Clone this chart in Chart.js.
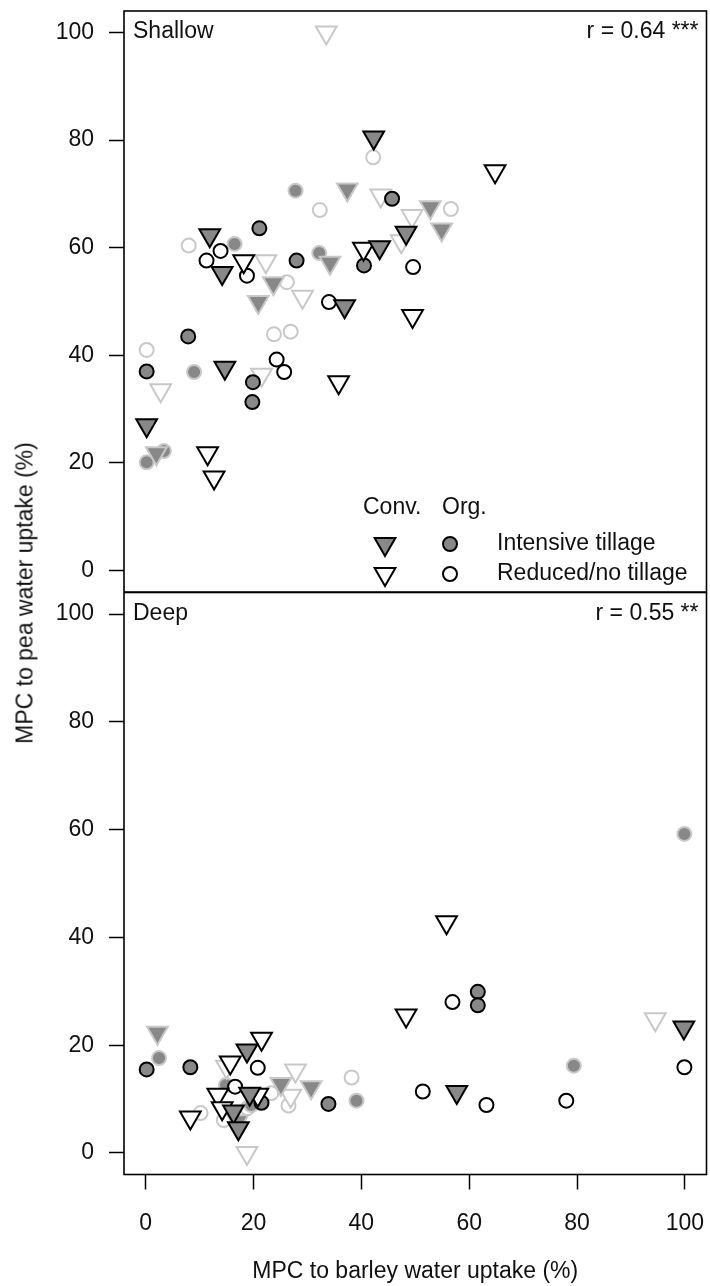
<!DOCTYPE html>
<html>
<head>
<meta charset="utf-8">
<script src="https://cdn.jsdelivr.net/npm/chart.js@4.4.1/dist/chart.umd.min.js"></script>
<style>
    body { margin: 0; background: #fff; width: 710px; height: 1286px; position: relative; overflow: hidden;
           font-family: "Liberation Sans", Arial, sans-serif; }
    #topChart { position: absolute; left: 0; top: 0; }
    #bottomChart { position: absolute; left: 0; top: 592px; }
    #ytitle { position: absolute; left: 25px; top: 593px; transform: translate(-50%, -50%) rotate(-90deg);
              font-size: 23px; color: #111; white-space: nowrap; }
</style>
</head>
<body>
<canvas id="topChart" width="710" height="592"></canvas>
<canvas id="bottomChart" width="710" height="694"></canvas>
<div id="ytitle">MPC to pea water uptake (%)</div>
<script>
// axis ticks
const xTicks = [0, 20, 40, 60, 80, 100];
const yTicks = [0, 20, 40, 60, 80, 100];

// Shallow panel: [barley MPC, pea MPC]
const shallowConvIntensive = [[42.3, 80.5], [48.3, 62.8], [11.9, 62.3], [14.2, 55.3], [43.4, 60.1], [36.9, 49.1], [14.7, 37.7], [0.2, 27.0]];
const shallowConvReduced = [[64.8, 74.2], [18.2, 57.5], [40.4, 59.8], [49.5, 47.3], [35.8, 35.0], [11.5, 21.8], [12.7, 17.3]];
const shallowOrgIntensive = [[45.7, 69.1], [21.1, 63.6], [28.0, 57.6], [40.5, 56.7], [7.9, 43.5], [0.2, 37.0], [19.9, 35.0], [19.8, 31.3]];
const shallowOrgReduced = [[13.9, 59.4], [11.3, 57.6], [18.8, 54.8], [49.6, 56.4], [34.0, 49.9], [24.3, 39.2], [25.7, 36.9]];
const shallowConvIntensiveB = [[37.4, 70.8], [52.8, 67.5], [54.9, 63.4], [34.2, 57.2], [23.7, 53.4], [20.9, 49.9], [2.0, 21.8]];
const shallowConvReducedB = [[33.5, 100], [43.6, 69.7], [49.4, 65.9], [47.4, 61.2], [22.3, 57.5], [29.1, 50.9], [21.5, 36.4], [2.8, 33.5]];
const shallowOrgIntensiveB = [[27.8, 70.6], [16.5, 60.7], [32.2, 59.0], [9.0, 36.9], [0.2, 20.1], [3.4, 22.2]];
const shallowOrgReducedB = [[42.2, 76.8], [32.3, 67.0], [56.6, 67.2], [8.0, 60.4], [26.2, 53.6], [0.2, 41.0], [23.8, 43.9], [26.9, 44.4]];

// Deep panel
const deepConvIntensive = [[99.8, 23.3], [57.7, 11.3], [18.8, 19.0], [19.3, 11.0], [16.3, 7.7], [17.2, 4.6]];
const deepConvReduced = [[55.8, 42.8], [48.3, 25.5], [21.5, 21.2], [15.7, 16.8], [8.3, 6.6], [13.4, 10.8], [14.2, 8.3], [20.8, 10.8]];
const deepOrgIntensive = [[61.6, 29.9], [61.6, 27.4], [33.9, 9.1], [0.2, 15.5], [8.3, 15.9], [21.5, 9.3]];
const deepOrgReduced = [[56.9, 28.0], [51.4, 11.4], [63.2, 8.9], [78.0, 9.7], [99.9, 15.9], [20.8, 15.8], [16.6, 12.3]];
const deepConvIntensiveB = [[2.2, 22.3], [25.1, 12.8], [30.7, 12.2], [17.1, 5.9]];
const deepConvReducedB = [[94.5, 24.8], [27.8, 15.3], [26.9, 10.6], [18.8, 0.0], [15.0, 16.0]];
const deepOrgIntensiveB = [[99.9, 59.2], [79.4, 16.2], [39.1, 9.7], [2.5, 17.6], [14.9, 12.6], [19.6, 8.9]];
const deepOrgReducedB = [[38.2, 14.0], [26.5, 8.8], [10.2, 7.4], [14.5, 6.1], [18.9, 8.3], [23.3, 11.1]];

const FONT = '"Liberation Sans", Arial, sans-serif';
const GRAY = '#888888';
const LIGHT = '#c8c8c8';

// marker looks
const styles = {
    convInt: { pointStyle: 'triangle', rotation: 180, radius: 12, bg: GRAY, border: '#000' },
    convRed: { pointStyle: 'triangle', rotation: 180, radius: 12, bg: '#fff', border: '#000' },
    orgInt: { pointStyle: 'circle', rotation: 0, radius: 7, bg: GRAY, border: '#000' },
    orgRed: { pointStyle: 'circle', rotation: 0, radius: 7, bg: '#fff', border: '#000' },
    convIntB: { pointStyle: 'triangle', rotation: 180, radius: 12, bg: GRAY, border: LIGHT },
    convRedB: { pointStyle: 'triangle', rotation: 180, radius: 12, bg: '#fff', border: LIGHT },
    orgIntB: { pointStyle: 'circle', rotation: 0, radius: 7, bg: GRAY, border: LIGHT },
    orgRedB: { pointStyle: 'circle', rotation: 0, radius: 7, bg: '#fff', border: LIGHT }
};

function makeSet(points, key) {
    const s = styles[key];
    return {
        label: key,
        data: points.map(p => ({ x: p[0], y: p[1] })),
        pointStyle: s.pointStyle,
        pointRotation: s.rotation,
        pointRadius: s.radius,
        pointHoverRadius: s.radius,
        pointBackgroundColor: s.bg,
        pointBorderColor: s.border,
        pointBorderWidth: 2
    };
}

function drawMarker(ctx, key, x, y) {
    const s = styles[key];
    ctx.fillStyle = s.bg;
    ctx.strokeStyle = s.border;
    ctx.lineWidth = 2;
    Chart.helpers.drawPoint(ctx, { pointStyle: s.pointStyle, rotation: s.rotation, radius: s.radius, borderWidth: 2 }, x, y);
}

// frame, panel label, r value and the legend
const panelPlugin = {
    id: 'panel',
    afterDraw(chart, args, opts) {
        const ctx = chart.ctx;
        const a = chart.chartArea;
        ctx.save();
        ctx.strokeStyle = '#000';
        ctx.lineWidth = 1.6;
        ctx.strokeRect(a.left, a.top, a.right - a.left, a.bottom - a.top);

        ctx.fillStyle = '#111';
        ctx.font = '23px ' + FONT;
        ctx.textBaseline = 'middle';
        ctx.textAlign = 'left';
        ctx.fillText(opts.name, a.left + 9, a.top + 21);
        ctx.textAlign = 'right';
        ctx.fillText(opts.stat, a.right - 8, a.top + 21);

        if (opts.legend) {
            const lx = a.left, ly = a.top;
            ctx.textAlign = 'left';
            ctx.fillStyle = '#111';
            ctx.fillText('Conv.', lx + 239, ly + 497);
            ctx.fillText('Org.', lx + 318, ly + 497);
            ctx.fillText('Intensive tillage', lx + 373, ly + 533);
            ctx.fillText('Reduced/no tillage', lx + 373, ly + 563);
            drawMarker(ctx, 'convInt', lx + 261, ly + 533);
            drawMarker(ctx, 'convRed', lx + 261, ly + 563);
            drawMarker(ctx, 'orgInt', lx + 326, ly + 533);
            drawMarker(ctx, 'orgRed', lx + 326, ly + 563);
        }
        ctx.restore();
    }
};

// no extra room for the first/last tick label, the plot box is set by layout padding
function noPad(s) {
    s.paddingTop = 0;
    s.paddingBottom = 0;
    s.paddingLeft = 0;
    s.paddingRight = 0;
}

function yScale() {
    return {
        type: 'linear',
        min: -4,
        max: 104,
        afterBuildTicks: s => { s.ticks = yTicks.map(v => ({ value: v })); },
        afterFit: s => { s.width = 124; noPad(s); },
        border: { display: false },
        grid: { drawOnChartArea: false, drawTicks: true, tickLength: 15, tickWidth: 1.5, tickColor: '#000' },
        ticks: { color: '#111', font: { size: 23, family: FONT }, padding: 15 }
    };
}

function makeChart(el, sets, panelOpts, showX) {
    const xScale = {
        type: 'linear',
        min: -4,
        max: 104,
        display: showX,
        afterBuildTicks: s => { s.ticks = xTicks.map(v => ({ value: v })); },
        afterFit: s => { if (showX) s.height = 111.5; noPad(s); },
        border: { display: false },
        grid: { drawOnChartArea: false, drawTicks: true, tickLength: 15, tickWidth: 1.5, tickColor: '#000' },
        ticks: { color: '#111', font: { size: 23, family: FONT }, padding: 20, maxRotation: 0 },
        title: {
            display: true,
            text: 'MPC to barley water uptake (%)',
            color: '#111',
            font: { size: 23, family: FONT },
            padding: { top: 0, bottom: 1 }
        }
    };

    return new Chart(el, {
        type: 'scatter',
        data: { datasets: sets },
        options: {
            responsive: false,
            animation: false,
            devicePixelRatio: 1,
            events: [],
            layout: { autoPadding: false, padding: { top: showX ? 0.5 : 11, right: 3.5, bottom: 0, left: 0 } },
            scales: { x: xScale, y: yScale() },
            plugins: {
                legend: { display: false },
                tooltip: { enabled: false },
                panel: panelOpts
            }
        },
        plugins: [panelPlugin]
    });
}

makeChart(document.getElementById('topChart'), [
    makeSet(shallowConvIntensive, 'convInt'),
    makeSet(shallowConvReduced, 'convRed'),
    makeSet(shallowOrgIntensive, 'orgInt'),
    makeSet(shallowOrgReduced, 'orgRed'),
    makeSet(shallowConvIntensiveB, 'convIntB'),
    makeSet(shallowConvReducedB, 'convRedB'),
    makeSet(shallowOrgIntensiveB, 'orgIntB'),
    makeSet(shallowOrgReducedB, 'orgRedB')
], { name: 'Shallow', stat: 'r = 0.64 ***', legend: true }, false);

makeChart(document.getElementById('bottomChart'), [
    makeSet(deepConvIntensive, 'convInt'),
    makeSet(deepConvReduced, 'convRed'),
    makeSet(deepOrgIntensive, 'orgInt'),
    makeSet(deepOrgReduced, 'orgRed'),
    makeSet(deepConvIntensiveB, 'convIntB'),
    makeSet(deepConvReducedB, 'convRedB'),
    makeSet(deepOrgIntensiveB, 'orgIntB'),
    makeSet(deepOrgReducedB, 'orgRedB')
], { name: 'Deep', stat: 'r = 0.55 **', legend: false }, true);
</script>
</body>
</html>
